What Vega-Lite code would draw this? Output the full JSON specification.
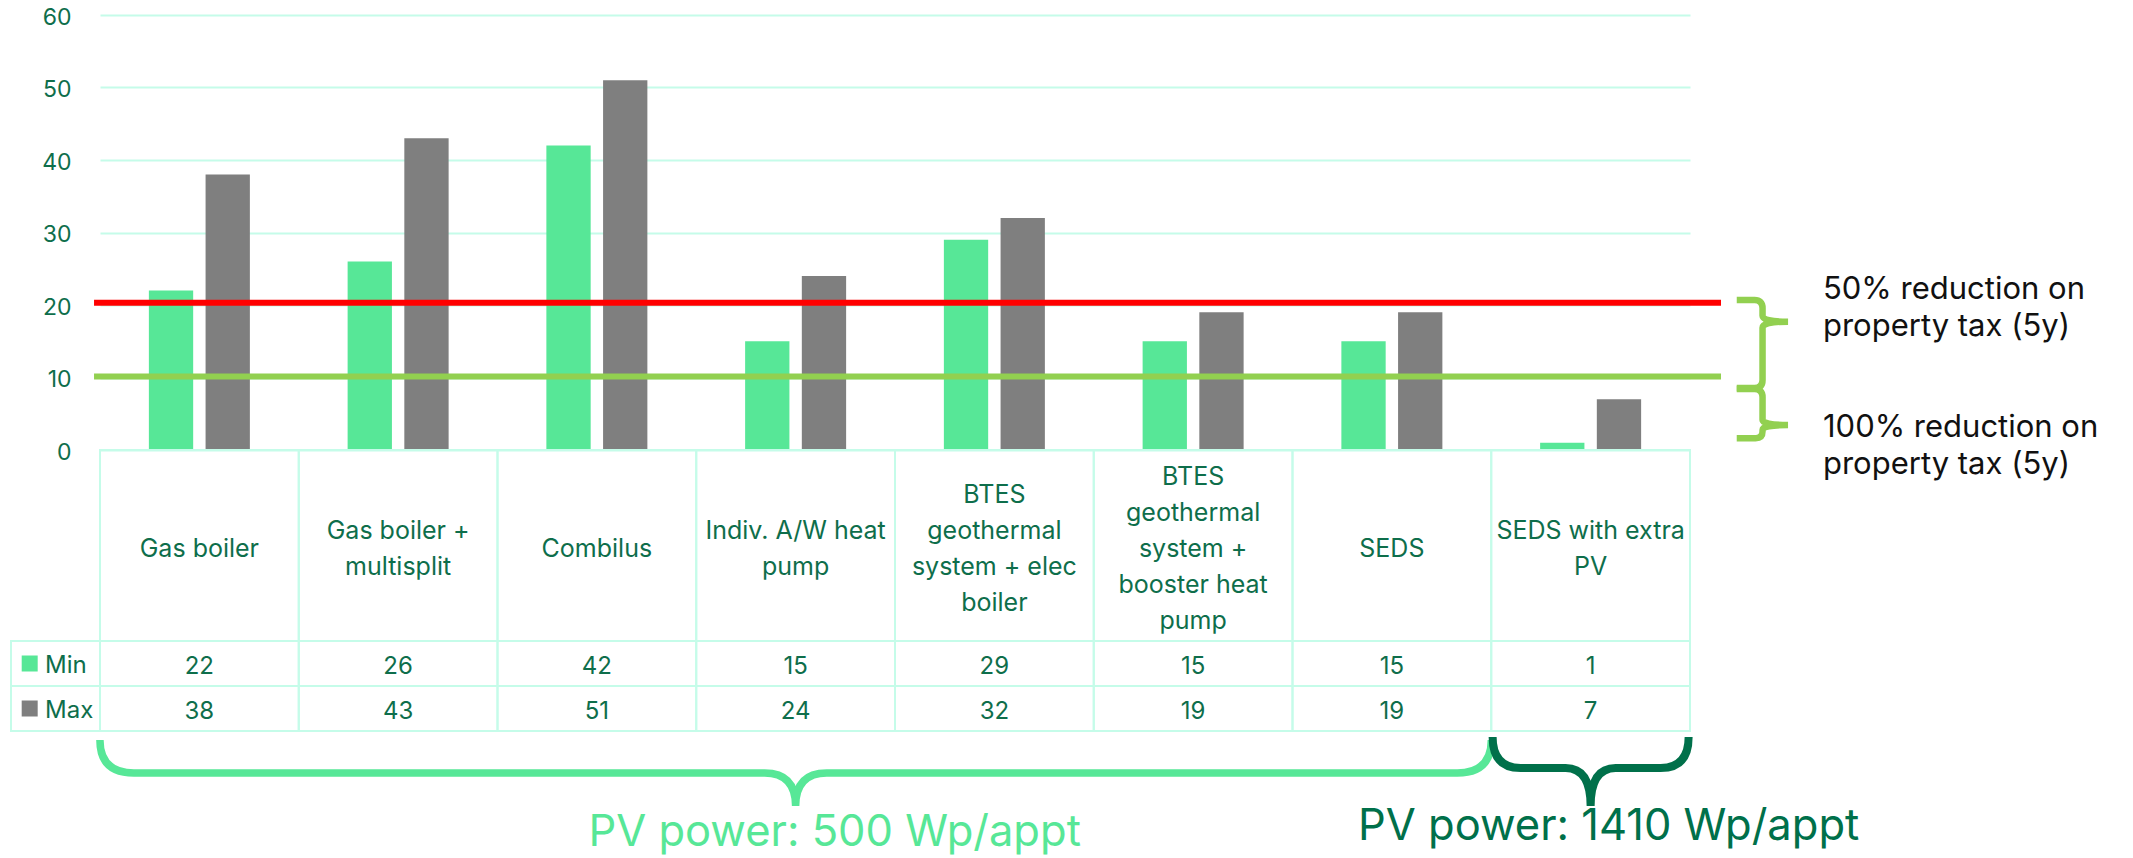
{
  "$schema": "https://vega.github.io/schema/vega-lite/v6.json",
  "width": 2133,
  "height": 858,
  "padding": 0,
  "autosize": {"type": "none"},
  "background": "#ffffff",
  "config": {"view": {"stroke": null}, "font": "Inter", "text": {"font": "Inter"}},
  "datasets": {
    "values": [
      {"category": "Gas boiler", "series": "Min", "value": 22},
      {"category": "Gas boiler", "series": "Max", "value": 38},
      {"category": "Gas boiler + multisplit", "series": "Min", "value": 26},
      {"category": "Gas boiler + multisplit", "series": "Max", "value": 43},
      {"category": "Combilus", "series": "Min", "value": 42},
      {"category": "Combilus", "series": "Max", "value": 51},
      {"category": "Indiv. A/W heat pump", "series": "Min", "value": 15},
      {"category": "Indiv. A/W heat pump", "series": "Max", "value": 24},
      {"category": "BTES geothermal system + elec boiler", "series": "Min", "value": 29},
      {"category": "BTES geothermal system + elec boiler", "series": "Max", "value": 32},
      {"category": "BTES geothermal system + booster heat pump", "series": "Min", "value": 15},
      {"category": "BTES geothermal system + booster heat pump", "series": "Max", "value": 19},
      {"category": "SEDS", "series": "Min", "value": 15},
      {"category": "SEDS", "series": "Max", "value": 19},
      {"category": "SEDS with extra PV", "series": "Min", "value": 1},
      {"category": "SEDS with extra PV", "series": "Max", "value": 7}
    ],
    "systems": [
      {"category": "Gas boiler", "header": "Gas boiler"},
      {"category": "Gas boiler + multisplit", "header": "Gas boiler +\nmultisplit"},
      {"category": "Combilus", "header": "Combilus"},
      {"category": "Indiv. A/W heat pump", "header": "Indiv. A/W heat\npump"},
      {"category": "BTES geothermal system + elec boiler", "header": "BTES\ngeothermal\nsystem + elec\nboiler"},
      {"category": "BTES geothermal system + booster heat pump", "header": "BTES\ngeothermal\nsystem +\nbooster heat\npump"},
      {"category": "SEDS", "header": "SEDS"},
      {"category": "SEDS with extra PV", "header": "SEDS with extra\nPV"}
    ],
    "series": [{"series": "Min"}, {"series": "Max"}],
    "notes": [
      {"reduction": "50%", "threshold": 20.3, "note": "50% reduction on\nproperty tax (5y)"},
      {"reduction": "100%", "threshold": 10.15, "note": "100% reduction on\nproperty tax (5y)"}
    ],
    "pv": [
      {"group": "500", "pv_power": "PV power: 500 Wp/appt"},
      {"group": "1410", "pv_power": "PV power: 1410 Wp/appt"}
    ]
  },
  "resolve": {"scale": {"x": "independent", "y": "independent", "color": "independent"}},
  "layer": [
    {
      "data": {"name": "values"},
      "mark": {"type": "bar"},
      "encoding": {
        "x": {"field": "category", "type": "nominal", "sort": null, "axis": null,
          "scale": {"type": "band", "domain": ["Gas boiler", "Gas boiler + multisplit", "Combilus", "Indiv. A/W heat pump", "BTES geothermal system + elec boiler", "BTES geothermal system + booster heat pump", "SEDS", "SEDS with extra PV"], "range": [100, 1690], "paddingInner": 0.4918, "paddingOuter": 0.2459}},
        "xOffset": {"field": "series", "type": "nominal", "sort": null, "scale": {"domain": ["Min", "Max"], "paddingInner": 0.2187, "paddingOuter": 0}},
        "y": {"field": "value", "type": "quantitative",
          "scale": {"domain": [0, 60], "range": [450, 15], "nice": false, "zero": false},
          "axis": {"values": [0, 10, 20, 30, 40, 50, 60], "grid": true, "gridColor": "#C5FCE9", "gridWidth": 2, "domain": false, "ticks": false, "tickSize": 0, "labelPadding": 0, "offset": -71, "labelFont": "Inter", "labelFontSize": 23, "labelColor": "#0E6E4B", "labelOffset": 2, "title": null}},
        "color": {"field": "series", "type": "nominal", "scale": {"domain": ["Min", "Max"], "range": ["#57E797", "#7F7F7F"]}, "legend": null}
      }
    },
    {
      "data": {"name": "systems"},
      "mark": {"type": "rect", "fillOpacity": 0, "stroke": "#C5FCE9", "strokeWidth": 2},
      "encoding": {
        "x": {"field": "category", "type": "nominal", "sort": null, "axis": null,
          "scale": {"type": "band", "domain": ["Gas boiler", "Gas boiler + multisplit", "Combilus", "Indiv. A/W heat pump", "BTES geothermal system + elec boiler", "BTES geothermal system + booster heat pump", "SEDS", "SEDS with extra PV"], "range": [100, 1690], "paddingInner": 0, "paddingOuter": 0}},
        "y": {"datum": "header", "type": "nominal", "axis": null, "scale": {"type": "band", "domain": ["header"], "range": [450, 641], "paddingInner": 0, "paddingOuter": 0}}
      }
    },
    {
      "data": {"name": "systems"},
      "transform": [{"filter": "length(split(datum.header, '\\n')) == 1"}],
      "mark": {"type": "text", "fontSize": 25, "lineHeight": 36, "lineBreak": "\n", "color": "#0E6E4B", "align": "center", "baseline": "middle", "dy": 3},
      "encoding": {
        "x": {"field": "category", "type": "nominal", "sort": null, "axis": null,
          "scale": {"type": "band", "domain": ["Gas boiler", "Gas boiler + multisplit", "Combilus", "Indiv. A/W heat pump", "BTES geothermal system + elec boiler", "BTES geothermal system + booster heat pump", "SEDS", "SEDS with extra PV"], "range": [100, 1690], "paddingInner": 0, "paddingOuter": 0}},
        "y": {"datum": "header", "type": "nominal", "axis": null, "scale": {"type": "band", "domain": ["header"], "range": [450, 641], "paddingInner": 0, "paddingOuter": 0}},
        "text": {"field": "header", "type": "nominal"}
      }
    },
    {
      "data": {"name": "systems"},
      "transform": [{"filter": "length(split(datum.header, '\\n')) == 2"}],
      "mark": {"type": "text", "fontSize": 25, "lineHeight": 36, "lineBreak": "\n", "color": "#0E6E4B", "align": "center", "baseline": "middle", "dy": -15},
      "encoding": {
        "x": {"field": "category", "type": "nominal", "sort": null, "axis": null,
          "scale": {"type": "band", "domain": ["Gas boiler", "Gas boiler + multisplit", "Combilus", "Indiv. A/W heat pump", "BTES geothermal system + elec boiler", "BTES geothermal system + booster heat pump", "SEDS", "SEDS with extra PV"], "range": [100, 1690], "paddingInner": 0, "paddingOuter": 0}},
        "y": {"datum": "header", "type": "nominal", "axis": null, "scale": {"type": "band", "domain": ["header"], "range": [450, 641], "paddingInner": 0, "paddingOuter": 0}},
        "text": {"field": "header", "type": "nominal"}
      }
    },
    {
      "data": {"name": "systems"},
      "transform": [{"filter": "length(split(datum.header, '\\n')) == 4"}],
      "mark": {"type": "text", "fontSize": 25, "lineHeight": 36, "lineBreak": "\n", "color": "#0E6E4B", "align": "center", "baseline": "middle", "dy": -51},
      "encoding": {
        "x": {"field": "category", "type": "nominal", "sort": null, "axis": null,
          "scale": {"type": "band", "domain": ["Gas boiler", "Gas boiler + multisplit", "Combilus", "Indiv. A/W heat pump", "BTES geothermal system + elec boiler", "BTES geothermal system + booster heat pump", "SEDS", "SEDS with extra PV"], "range": [100, 1690], "paddingInner": 0, "paddingOuter": 0}},
        "y": {"datum": "header", "type": "nominal", "axis": null, "scale": {"type": "band", "domain": ["header"], "range": [450, 641], "paddingInner": 0, "paddingOuter": 0}},
        "text": {"field": "header", "type": "nominal"}
      }
    },
    {
      "data": {"name": "systems"},
      "transform": [{"filter": "length(split(datum.header, '\\n')) == 5"}],
      "mark": {"type": "text", "fontSize": 25, "lineHeight": 36, "lineBreak": "\n", "color": "#0E6E4B", "align": "center", "baseline": "middle", "dy": -69},
      "encoding": {
        "x": {"field": "category", "type": "nominal", "sort": null, "axis": null,
          "scale": {"type": "band", "domain": ["Gas boiler", "Gas boiler + multisplit", "Combilus", "Indiv. A/W heat pump", "BTES geothermal system + elec boiler", "BTES geothermal system + booster heat pump", "SEDS", "SEDS with extra PV"], "range": [100, 1690], "paddingInner": 0, "paddingOuter": 0}},
        "y": {"datum": "header", "type": "nominal", "axis": null, "scale": {"type": "band", "domain": ["header"], "range": [450, 641], "paddingInner": 0, "paddingOuter": 0}},
        "text": {"field": "header", "type": "nominal"}
      }
    },
    {
      "data": {"name": "values"},
      "mark": {"type": "rect", "fillOpacity": 0, "stroke": "#C5FCE9", "strokeWidth": 2},
      "encoding": {
        "x": {"field": "category", "type": "nominal", "sort": null, "axis": null,
          "scale": {"type": "band", "domain": ["Gas boiler", "Gas boiler + multisplit", "Combilus", "Indiv. A/W heat pump", "BTES geothermal system + elec boiler", "BTES geothermal system + booster heat pump", "SEDS", "SEDS with extra PV"], "range": [100, 1690], "paddingInner": 0, "paddingOuter": 0}},
        "y": {"field": "series", "type": "nominal", "sort": null, "axis": null, "scale": {"type": "band", "domain": ["Min", "Max"], "range": [641, 731], "paddingInner": 0, "paddingOuter": 0}}
      }
    },
    {
      "data": {"name": "values"},
      "mark": {"type": "text", "fontSize": 24, "color": "#0E6E4B", "align": "center", "baseline": "middle", "dy": 3},
      "encoding": {
        "x": {"field": "category", "type": "nominal", "sort": null, "axis": null,
          "scale": {"type": "band", "domain": ["Gas boiler", "Gas boiler + multisplit", "Combilus", "Indiv. A/W heat pump", "BTES geothermal system + elec boiler", "BTES geothermal system + booster heat pump", "SEDS", "SEDS with extra PV"], "range": [100, 1690], "paddingInner": 0, "paddingOuter": 0}},
        "y": {"field": "series", "type": "nominal", "sort": null, "axis": null, "scale": {"type": "band", "domain": ["Min", "Max"], "range": [641, 731], "paddingInner": 0, "paddingOuter": 0}},
        "text": {"field": "value", "type": "quantitative"}
      }
    },
    {
      "data": {"name": "series"},
      "mark": {"type": "rect", "fillOpacity": 0, "stroke": "#C5FCE9", "strokeWidth": 2},
      "encoding": {
        "x": {"datum": "legend", "type": "nominal", "axis": null, "scale": {"type": "band", "domain": ["legend"], "range": [11, 100], "paddingInner": 0, "paddingOuter": 0}},
        "y": {"field": "series", "type": "nominal", "sort": null, "axis": null, "scale": {"type": "band", "domain": ["Min", "Max"], "range": [641, 731], "paddingInner": 0, "paddingOuter": 0}}
      }
    },
    {
      "data": {"name": "series"},
      "mark": {"type": "point", "shape": "square", "size": 256, "filled": true, "opacity": 1, "strokeWidth": 0},
      "encoding": {
        "x": {"datum": "legend", "type": "nominal", "bandPosition": 0.21, "axis": null, "scale": {"type": "band", "domain": ["legend"], "range": [11, 100], "paddingInner": 0, "paddingOuter": 0}},
        "y": {"field": "series", "type": "nominal", "sort": null, "axis": null, "scale": {"type": "band", "domain": ["Min", "Max"], "range": [641, 731], "paddingInner": 0, "paddingOuter": 0}},
        "color": {"field": "series", "type": "nominal", "scale": {"domain": ["Min", "Max"], "range": ["#57E797", "#7F7F7F"]}, "legend": null}
      }
    },
    {
      "data": {"name": "series"},
      "mark": {"type": "text", "fontSize": 24, "color": "#0E6E4B", "align": "left", "baseline": "middle", "dy": 2},
      "encoding": {
        "x": {"datum": "legend", "type": "nominal", "bandPosition": 0.382, "axis": null, "scale": {"type": "band", "domain": ["legend"], "range": [11, 100], "paddingInner": 0, "paddingOuter": 0}},
        "y": {"field": "series", "type": "nominal", "sort": null, "axis": null, "scale": {"type": "band", "domain": ["Min", "Max"], "range": [641, 731], "paddingInner": 0, "paddingOuter": 0}},
        "text": {"field": "series", "type": "nominal"}
      }
    },
    {
      "data": {"name": "notes"},
      "mark": {"type": "rule", "strokeWidth": 6},
      "encoding": {
        "x": {"datum": -0.03, "type": "quantitative", "axis": null, "scale": {"domain": [0, 8], "range": [100, 1690], "nice": false, "zero": false}},
        "x2": {"datum": 8.156},
        "y": {"field": "threshold", "type": "quantitative", "axis": null, "scale": {"domain": [0, 60], "range": [450, 15], "nice": false, "zero": false}},
        "color": {"field": "reduction", "type": "nominal", "scale": {"domain": ["50%", "100%"], "range": ["#FF0000", "#92D050"]}, "legend": null}
      }
    },
    {
      "data": {"name": "notes"},
      "transform": [{"filter": "datum.reduction == '50%'"}],
      "mark": {"type": "point", "shape": "M-0.389,-0.327 L-0.121,-0.327 Q0,-0.327 0,-0.206 L0,-0.09 Q0,0 0.385,0 Q0,0 0,0.09 L0,0.879 Q0,1 -0.121,1 L-0.389,1", "size": 17583, "filled": false, "opacity": 1, "color": "#92D050", "strokeWidth": 6.5},
      "encoding": {
        "x": {"datum": 8.365, "type": "quantitative", "axis": null, "scale": {"domain": [0, 8], "range": [100, 1690], "nice": false, "zero": false}},
        "y": {"datum": 17.7, "type": "quantitative", "axis": null, "scale": {"domain": [0, 60], "range": [450, 15], "nice": false, "zero": false}}
      }
    },
    {
      "data": {"name": "notes"},
      "transform": [{"filter": "datum.reduction == '100%'"}],
      "mark": {"type": "point", "shape": "M-0.717,-1 L-0.222,-1 Q0,-1 0,-0.778 L0,-0.139 Q0,0 0.708,0 Q0,0 0,0.139 L0,0.175 Q0,0.369 -0.194,0.369 L-0.717,0.369", "size": 5184, "filled": false, "opacity": 1, "color": "#92D050", "strokeWidth": 6.5},
      "encoding": {
        "x": {"datum": 8.365, "type": "quantitative", "axis": null, "scale": {"domain": [0, 8], "range": [100, 1690], "nice": false, "zero": false}},
        "y": {"datum": 3.45, "type": "quantitative", "axis": null, "scale": {"domain": [0, 60], "range": [450, 15], "nice": false, "zero": false}}
      }
    },
    {
      "data": {"name": "notes"},
      "transform": [{"filter": "datum.reduction == '50%'"}],
      "mark": {"type": "text", "fontSize": 31, "lineHeight": 37, "lineBreak": "\n", "color": "#111111", "align": "left", "baseline": "alphabetic"},
      "encoding": {
        "x": {"datum": 8.669, "type": "quantitative", "axis": null, "scale": {"domain": [0, 8], "range": [100, 1690], "nice": false, "zero": false}},
        "y": {"datum": 20.79, "type": "quantitative", "axis": null, "scale": {"domain": [0, 60], "range": [450, 15], "nice": false, "zero": false}},
        "text": {"field": "note", "type": "nominal"}
      }
    },
    {
      "data": {"name": "notes"},
      "transform": [{"filter": "datum.reduction == '100%'"}],
      "mark": {"type": "text", "fontSize": 31, "lineHeight": 37, "lineBreak": "\n", "color": "#111111", "align": "left", "baseline": "alphabetic"},
      "encoding": {
        "x": {"datum": 8.669, "type": "quantitative", "axis": null, "scale": {"domain": [0, 8], "range": [100, 1690], "nice": false, "zero": false}},
        "y": {"datum": 1.83, "type": "quantitative", "axis": null, "scale": {"domain": [0, 60], "range": [450, 15], "nice": false, "zero": false}},
        "text": {"field": "note", "type": "nominal"}
      }
    },
    {
      "data": {"name": "pv"},
      "transform": [{"filter": "datum.group == '500'"}],
      "mark": {"type": "point", "shape": "M-1,-0.0474 Q-1,0 -0.9511,0 L-0.0446,0 Q0,0 0,0.0474 Q0,0 0.0446,0 L0.9511,0 Q1,0 1,-0.0474", "size": 1935994, "filled": false, "opacity": 1, "color": "#57E797", "strokeWidth": 7.5},
      "encoding": {
        "x": {"datum": "Indiv. A/W heat pump", "type": "nominal", "axis": null,
          "scale": {"type": "band", "domain": ["Gas boiler", "Gas boiler + multisplit", "Combilus", "Indiv. A/W heat pump", "BTES geothermal system + elec boiler", "BTES geothermal system + booster heat pump", "SEDS", "SEDS with extra PV"], "range": [100, 1690], "paddingInner": 0, "paddingOuter": 0}},
        "y": {"datum": "brace", "type": "nominal", "axis": null, "scale": {"type": "point", "domain": ["brace", "label"], "range": [773, 846], "padding": 0}}
      }
    },
    {
      "data": {"name": "pv"},
      "transform": [{"filter": "datum.group == '1410'"}],
      "mark": {"type": "point", "shape": "M-1,-0.367 Q-1,-0.051 -0.714,-0.051 L-0.255,-0.051 Q0,-0.051 0,0.337 Q0,-0.051 0.255,-0.051 L0.714,-0.051 Q1,-0.051 1,-0.367", "size": 38416, "filled": false, "opacity": 1, "color": "#00704A", "strokeWidth": 8},
      "encoding": {
        "x": {"datum": "SEDS with extra PV", "type": "nominal", "axis": null,
          "scale": {"type": "band", "domain": ["Gas boiler", "Gas boiler + multisplit", "Combilus", "Indiv. A/W heat pump", "BTES geothermal system + elec boiler", "BTES geothermal system + booster heat pump", "SEDS", "SEDS with extra PV"], "range": [100, 1690], "paddingInner": 0, "paddingOuter": 0}},
        "y": {"datum": "brace", "type": "nominal", "axis": null, "scale": {"type": "point", "domain": ["brace", "label"], "range": [773, 846], "padding": 0}}
      }
    },
    {
      "data": {"name": "pv"},
      "transform": [{"filter": "datum.group == '500'"}],
      "mark": {"type": "text", "fontSize": 43.5, "color": "#57E797", "align": "center", "baseline": "alphabetic", "dx": 39},
      "encoding": {
        "x": {"datum": "Indiv. A/W heat pump", "type": "nominal", "axis": null,
          "scale": {"type": "band", "domain": ["Gas boiler", "Gas boiler + multisplit", "Combilus", "Indiv. A/W heat pump", "BTES geothermal system + elec boiler", "BTES geothermal system + booster heat pump", "SEDS", "SEDS with extra PV"], "range": [100, 1690], "paddingInner": 0, "paddingOuter": 0}},
        "y": {"datum": "label", "type": "nominal", "axis": null, "scale": {"type": "point", "domain": ["brace", "label"], "range": [773, 846], "padding": 0}},
        "text": {"field": "pv_power", "type": "nominal"}
      }
    },
    {
      "data": {"name": "pv"},
      "transform": [{"filter": "datum.group == '1410'"}],
      "mark": {"type": "text", "fontSize": 43.5, "color": "#00704A", "align": "center", "baseline": "alphabetic", "dx": 18, "dy": -6},
      "encoding": {
        "x": {"datum": "SEDS with extra PV", "type": "nominal", "axis": null,
          "scale": {"type": "band", "domain": ["Gas boiler", "Gas boiler + multisplit", "Combilus", "Indiv. A/W heat pump", "BTES geothermal system + elec boiler", "BTES geothermal system + booster heat pump", "SEDS", "SEDS with extra PV"], "range": [100, 1690], "paddingInner": 0, "paddingOuter": 0}},
        "y": {"datum": "label", "type": "nominal", "axis": null, "scale": {"type": "point", "domain": ["brace", "label"], "range": [773, 846], "padding": 0}},
        "text": {"field": "pv_power", "type": "nominal"}
      }
    }
  ]
}
